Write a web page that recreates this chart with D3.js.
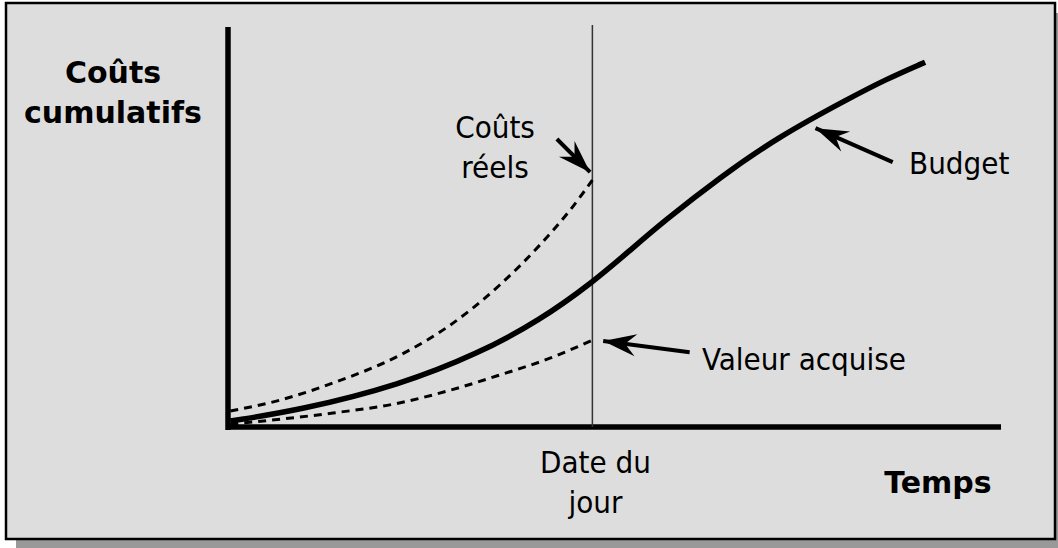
<!DOCTYPE html>
<html>
<head>
<meta charset="utf-8">
<script src="https://cdn.jsdelivr.net/npm/d3@7"></script>
<style>
  body { margin: 0; background: #fff; }
  .lbl { font-family: 'DejaVu Sans Condensed', 'DejaVu Sans', sans-serif; font-stretch: condensed; font-size: 31px; fill: #000; }
  .lbl-bold { font-family: 'DejaVu Sans', sans-serif; font-weight: bold; font-size: 30px; fill: #000; }
</style>
</head>
<body>
<svg></svg>
<script>
// time (0-100) vs cumulative cost (0-100)
var budgetT = [0.3, 9.3, 22.3, 32.6, 40.4, 47.2, 52.1, 56.3, 63.7, 71.5, 80.6, 85.1, 90.3];
var budgetV = [1.5, 4.2, 10.5, 18.5, 26.7, 36.1, 44.2, 51.2, 62.4, 72.8, 82.3, 86.8, 91.2];

var actualT = [0.3, 6.7, 13.6, 22.3, 28.8, 35.2, 40.4, 44.3, 47.2];
var actualV = [4, 6.7, 11, 18, 25.5, 35.5, 45.5, 54.2, 61.7];

var earnedT = [0.3, 13.6, 21.4, 28.8, 35.2, 41.7, 47.2];
var earnedV = [0.7, 3.5, 5.7, 9.2, 13, 17.2, 21.7];

var statusDate = 47.2;

// annotations: [tail t, tail v, tip t, tip v]
var arrows = [
  [42.6, 72, 46.9, 63.7],
  [59.8, 18.7, 48.6, 21.5],
  [86.1, 66.2, 76.1, 74.7]
];

var width = 1058;
var height = 548;
var svg = d3.select('svg')
  .attr('width', width)
  .attr('height', height);

var scaleX = d3.scaleLinear().domain([0, 100]).range([228, 1000]);
var scaleY = d3.scaleLinear().domain([0, 100]).range([427, 27]);

// frame with drop shadow
svg.append('rect')
  .attr('x', 16).attr('y', 13)
  .attr('width', 1060).attr('height', 545)
  .attr('fill', '#999');
svg.append('rect')
  .attr('x', 6).attr('y', 3)
  .attr('width', 1049).attr('height', 536)
  .attr('fill', '#dddddd')
  .attr('stroke', '#000')
  .attr('stroke-width', 2.5);

svg.append('defs').append('marker')
  .attr('id', 'head')
  .attr('markerUnits', 'userSpaceOnUse')
  .attr('viewBox', '-34 -12 36 24')
  .attr('refX', 0).attr('refY', 0)
  .attr('markerWidth', 36).attr('markerHeight', 24)
  .attr('orient', 'auto')
  .append('path')
  .attr('d', 'M0,0 L-33,-11 L-22,0 L-33,11 Z')
  .attr('fill', '#000');

// axes
svg.append('line')
  .attr('x1', scaleX(0)).attr('x2', scaleX(0))
  .attr('y1', scaleY(100)).attr('y2', scaleY(0) + 3)
  .attr('stroke', '#000').attr('stroke-width', 5.5);
svg.append('line')
  .attr('x1', scaleX(0) - 2).attr('x2', scaleX(100) + 1)
  .attr('y1', scaleY(0)).attr('y2', scaleY(0))
  .attr('stroke', '#000').attr('stroke-width', 5.5);

// status date line
svg.append('line')
  .attr('x1', scaleX(statusDate)).attr('x2', scaleX(statusDate))
  .attr('y1', scaleY(100.5)).attr('y2', scaleY(0))
  .attr('stroke', '#333').attr('stroke-width', 1.5);

var line = d3.line()
  .x(function(d) { return scaleX(d[0]); })
  .y(function(d) { return scaleY(d[1]); })
  .curve(d3.curveMonotoneX);

var smoothLine = d3.line()
  .x(function(d) { return scaleX(d[0]); })
  .y(function(d) { return scaleY(d[1]); })
  .curve(d3.curveBasis);

function zip(a, b) {
  return a.map(function(v, i) { return [v, b[i]]; });
}

svg.append('path')
  .datum(zip(actualT, actualV))
  .attr('d', line)
  .attr('fill', 'none')
  .attr('stroke', '#000')
  .attr('stroke-width', 3)
  .attr('stroke-dasharray', '8,6');

svg.append('path')
  .datum(zip(earnedT, earnedV))
  .attr('d', line)
  .attr('fill', 'none')
  .attr('stroke', '#000')
  .attr('stroke-width', 3)
  .attr('stroke-dasharray', '8,6');

svg.append('path')
  .datum(zip(budgetT, budgetV))
  .attr('d', smoothLine)
  .attr('fill', 'none')
  .attr('stroke', '#000')
  .attr('stroke-width', 5.5)
  .attr('stroke-linecap', 'butt');

svg.selectAll('.arrow')
  .data(arrows)
  .enter().append('line')
  .attr('class', 'arrow')
  .attr('x1', function(d) { return scaleX(d[0]); })
  .attr('y1', function(d) { return scaleY(d[1]); })
  .attr('x2', function(d) { return scaleX(d[2]); })
  .attr('y2', function(d) { return scaleY(d[3]); })
  .attr('stroke', '#000')
  .attr('stroke-width', 4)
  .attr('marker-end', 'url(#head)');

function label(lines, x, y, cls, anchor) {
  var t = svg.append('text')
    .attr('class', cls)
    .attr('text-anchor', anchor);
  lines.forEach(function(s, i) {
    t.append('tspan').attr('x', x).attr('y', y + i * 40).text(s);
  });
}

label(['Coûts', 'cumulatifs'], 113, 83, 'lbl-bold', 'middle');
label(['Temps'], 938, 493, 'lbl-bold', 'middle');
label(['Coûts', 'réels'], 495, 138, 'lbl', 'middle');
label(['Date du', 'jour'], scaleX(statusDate) + 3, 473, 'lbl', 'middle');
label(['Valeur acquise'], 702, 370, 'lbl', 'start');
label(['Budget'], 909, 174, 'lbl', 'start');
</script>
</body>
</html>
